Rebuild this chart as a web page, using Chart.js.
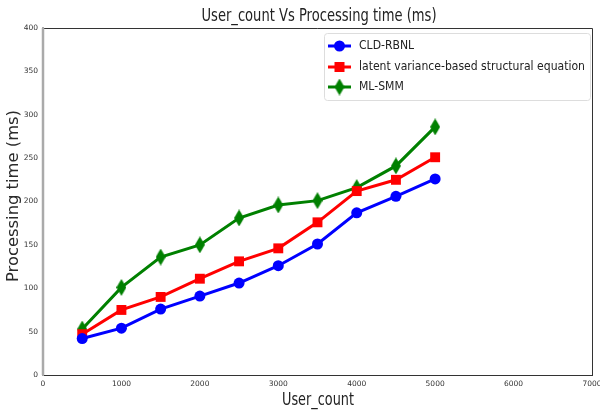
<!DOCTYPE html>
<html>
<head>
<meta charset="utf-8">
<script src="https://cdn.jsdelivr.net/npm/chart.js@4/dist/chart.umd.min.js"></script>
<style>
html,body{margin:0;padding:0;background:#fff}
#wrap{width:600px;height:412px;position:relative}
</style>
</head>
<body>
<div id="wrap"><canvas id="c"></canvas></div>
<script>
const userCounts=[500,1000,1500,2000,2500,3000,3500,4000,4500,5000];
const cldRbnl=[42,54,76,91,106,126,151,187,206,226];
const latentSem=[47,75,90,111,131,146,176,212,225,251];
const mlSmm=[53,101,136,150,181,196,201,216,241,286];
const seriesNames=["CLD-RBNL","latent variance-based structural equation","ML-SMM"];
const seriesColors=["#0000ff","#ff0000","#008000"];

const FONT="'DejaVu Sans'";

// thin diamond marker, like matplotlib 'd'
function thinDiamond(color){
  const cv=document.createElement("canvas");
  cv.width=10;cv.height=17;
  const g=cv.getContext("2d");
  g.fillStyle=color;
  g.beginPath();
  g.moveTo(5,0);g.lineTo(10,8.5);g.lineTo(5,17);g.lineTo(0,8.5);
  g.closePath();g.fill();
  return cv;
}
const diamond=thinDiamond(seriesColors[2]);

function pts(vals){ return userCounts.map((u,i)=>({x:u,y:vals[i]})); }

// draw text squeezed to a target width
function fitText(ctx,str,x,y,size,w,rot){
  ctx.save();
  ctx.font=size+"px "+FONT;
  const mw=ctx.measureText(str).width;
  ctx.translate(x,y);
  if(rot) ctx.rotate(rot);
  ctx.scale(w/mw,1);
  ctx.textAlign="center";ctx.textBaseline="middle";
  ctx.fillText(str,0,0);
  ctx.restore();
}

const decor={
  id:"decor",
  afterDraw(chart){
    const ctx=chart.ctx, a=chart.chartArea;
    // frame
    ctx.save();
    ctx.strokeStyle="#333";ctx.lineWidth=1;
    ctx.beginPath();
    ctx.moveTo(a.left,a.top+0.5);ctx.lineTo(a.right+0.5,a.top+0.5);ctx.lineTo(a.right+0.5,a.bottom);
    ctx.stroke();
    ctx.strokeStyle="#aaa";ctx.lineWidth=2.5;
    ctx.beginPath();ctx.moveTo(a.left,a.top);ctx.lineTo(a.left,a.bottom);ctx.stroke();
    ctx.restore();

    ctx.fillStyle="#222";
    fitText(ctx,"User_count Vs Processing time (ms)",319,17,17,235);
    fitText(ctx,"User_count",318,400,18,72);
    ctx.fillStyle="#2a2a2a";
    fitText(ctx,"Processing time (ms)",14,196,16,172,-Math.PI/2);

    // legend
    const lx=324,ly=33,lw=266,lh=67;
    ctx.save();
    ctx.fillStyle="rgba(255,255,255,0.85)";
    ctx.strokeStyle="#ddd";ctx.lineWidth=1;
    ctx.beginPath();
    ctx.roundRect(lx+0.5,ly+0.5,lw,lh,3);
    ctx.fill();ctx.stroke();
    const rows=[46,67,87];
    ctx.font="13px "+FONT;
    const sx=226/ctx.measureText(seriesNames[1]).width;
    rows.forEach((ry,i)=>{
      ctx.strokeStyle=seriesColors[i];ctx.lineWidth=3;
      ctx.beginPath();ctx.moveTo(328,ry);ctx.lineTo(351,ry);ctx.stroke();
      ctx.fillStyle=seriesColors[i];
      if(i===0){ctx.beginPath();ctx.arc(339.5,ry,5.5,0,Math.PI*2);ctx.fill();}
      else if(i===1){ctx.fillRect(334.5,ry-5,10,10);}
      else{ctx.drawImage(diamond,334.5,ry-8.5);}
      ctx.fillStyle="#222";
      ctx.save();
      ctx.translate(359,ry);ctx.scale(sx,1);
      ctx.textBaseline="middle";ctx.textAlign="left";
      ctx.fillText(seriesNames[i],0,0);
      ctx.restore();
    });
    ctx.restore();
  }
};

new Chart(document.getElementById("c"),{
  type:"line",
  data:{
    datasets:[
      {label:seriesNames[0],data:pts(cldRbnl),borderColor:seriesColors[0],backgroundColor:seriesColors[0],
       borderWidth:3,pointStyle:"circle",pointRadius:5.5,pointBorderWidth:0},
      {label:seriesNames[1],data:pts(latentSem),borderColor:seriesColors[1],backgroundColor:seriesColors[1],
       borderWidth:3,pointStyle:"rect",pointRadius:7,pointBorderWidth:0},
      {label:seriesNames[2],data:pts(mlSmm),borderColor:seriesColors[2],backgroundColor:seriesColors[2],
       borderWidth:3,pointStyle:diamond,pointRadius:8,pointBorderWidth:0}
    ]
  },
  options:{
    responsive:true,maintainAspectRatio:false,animation:false,
    layout:{padding:{top:28,right:5,left:0,bottom:0}},
    plugins:{legend:{display:false},tooltip:{enabled:false},title:{display:false}},
    scales:{
      x:{type:"linear",min:0,max:7000,
        ticks:{stepSize:1000,color:"#333",font:{family:FONT,size:7.5},padding:2,maxRotation:0,
          callback:v=>String(v)},
        grid:{display:false,drawTicks:true,tickLength:3,tickColor:"#333"},
        border:{color:"#333",width:1},
        afterFit(s){s.height=37;s.paddingRight=0;s.paddingLeft=0;}},
      y:{min:0,max:400,
        ticks:{stepSize:50,color:"#333",font:{family:FONT,size:7.5},padding:2},
        grid:{display:false,drawTicks:true,tickLength:3,tickColor:"#333"},
        border:{color:"#aaa",width:2},
        afterFit(s){s.width=43;s.paddingTop=0;s.paddingBottom=0;}}
    }
  },
  plugins:[decor]
});
</script>
</body>
</html>
